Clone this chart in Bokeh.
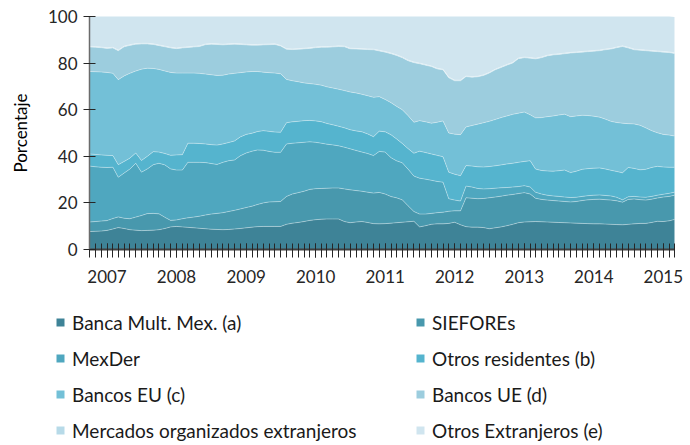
import numpy as np
import pandas as pd
from bokeh.plotting import figure
from bokeh.models import (Range1d, FixedTicker, DatetimeTickFormatter, Legend,
                          LegendItem, ColumnDataSource)
from bokeh.embed import file_html
from bokeh.resources import INLINE

# Monthly observations, Oct-2006 .. Mar-2015 (percent of total)
dates = pd.date_range("2006-10-01", periods=102, freq="MS")

banca = [7.7, 7.8, 7.9, 8.2, 8.8, 9.4, 9.0, 8.5, 8.3, 8.1,
         8.2, 8.3, 8.5, 9.0, 9.7, 9.9, 9.7, 9.5, 9.3, 9.1,
         8.9, 8.7, 8.6, 8.5, 8.6, 8.8, 9.0, 9.3, 9.6, 9.8,
         9.9, 9.9, 9.9, 9.9, 10.8, 11.3, 11.6, 12.0, 12.5, 12.8,
         13.0, 13.1, 13.1, 13.1, 12.0, 11.5, 11.8, 12.0, 11.6, 11.1,
         11.0, 11.1, 11.3, 11.5, 11.7, 11.9, 12.1, 9.7, 10.2, 10.8,
         11.0, 11.0, 11.2, 11.7, 10.6, 9.8, 9.6, 9.6, 9.4, 8.9,
         9.3, 9.7, 10.2, 10.8, 11.5, 11.8, 11.9, 12.0, 11.9, 11.8,
         11.7, 11.6, 11.5, 11.4, 11.3, 11.2, 11.1, 11.0, 11.0, 10.9,
         10.8, 10.7, 10.6, 10.8, 11.0, 11.2, 11.2, 11.6, 12.1, 12.0,
         12.3, 12.9]
siefores = [4.1, 4.2, 4.3, 4.2, 4.5, 4.6, 4.4, 4.7, 5.6, 6.5,
            7.2, 7.2, 6.8, 4.8, 2.8, 2.8, 3.5, 4.1, 4.6, 5.2,
            5.9, 6.5, 6.9, 7.3, 7.7, 8.0, 8.4, 8.7, 9.0, 9.5,
            10.1, 10.5, 10.6, 10.7, 12.0, 12.5, 12.8, 13.0, 13.3, 13.3,
            13.2, 13.2, 13.3, 13.3, 14.0, 14.1, 13.5, 13.0, 13.0, 13.1,
            13.5, 12.7, 11.4, 10.7, 9.6, 6.9, 4.2, 5.5, 5.0, 4.7,
            4.8, 5.0, 5.2, 4.9, 6.0, 12.4, 12.4, 12.2, 12.5, 13.3,
            13.2, 13.2, 13.1, 12.8, 12.5, 12.6, 11.9, 10.0, 9.6, 9.4,
            9.3, 9.2, 9.1, 9.0, 9.3, 9.8, 10.2, 10.5, 10.6, 10.5,
            10.4, 10.2, 9.7, 10.7, 10.7, 10.2, 10.0, 10.0, 10.0, 10.5,
            10.5, 10.4]
mexder = [24.0, 23.5, 23.1, 22.8, 22.0, 17.0, 19.4, 21.3, 23.1, 18.6,
          19.2, 20.9, 21.7, 22.5, 22.1, 21.4, 20.9, 23.8, 23.5, 23.1,
          22.5, 21.7, 21.0, 21.6, 21.8, 21.6, 22.8, 23.4, 23.6, 23.4,
          22.6, 21.7, 21.2, 21.1, 22.5, 21.8, 21.4, 21.0, 20.4, 19.9,
          19.4, 18.9, 18.5, 18.1, 17.9, 17.6, 17.2, 16.8, 16.6, 16.1,
          17.6, 18.0, 16.7, 15.9, 15.9, 15.7, 15.2, 15.4, 15.0, 14.2,
          13.4, 12.9, 5.4, 4.6, 4.2, 5.0, 4.8, 4.4, 4.1, 3.9,
          3.8, 3.6, 3.3, 3.2, 3.0, 3.0, 3.0, 2.6, 2.3, 2.1,
          2.0, 2.0, 1.9, 1.9, 1.8, 1.8, 1.8, 1.8, 1.8, 1.8,
          1.8, 1.5, 1.0, 1.1, 1.1, 1.1, 1.2, 1.2, 1.2, 1.2,
          1.3, 1.3]
otros_res = [5.2, 5.3, 5.3, 5.2, 5.0, 5.4, 5.0, 4.7, 4.4, 5.0,
             5.4, 5.6, 4.8, 4.9, 5.8, 6.5, 6.6, 8.2, 8.2, 8.1,
             8.0, 8.1, 8.3, 7.9, 7.8, 8.2, 8.1, 8.0, 7.7, 7.9,
             8.4, 8.6, 8.7, 8.6, 9.1, 9.2, 9.2, 9.3, 9.2, 9.2,
             9.2, 8.9, 8.6, 8.4, 8.3, 8.2, 8.4, 8.7, 8.4, 8.1,
             8.7, 8.7, 9.8, 9.4, 8.3, 8.8, 9.8, 11.6, 11.4, 11.3,
             11.2, 10.9, 11.4, 11.1, 10.9, 8.8, 9.0, 9.3, 9.4, 9.5,
             9.6, 9.8, 10.1, 10.2, 10.4, 10.4, 11.3, 9.9, 10.1, 10.4,
             10.6, 11.0, 11.6, 10.7, 11.2, 11.6, 11.6, 11.6, 11.6, 11.4,
             11.0, 11.1, 11.6, 12.6, 12.0, 11.7, 12.0, 12.4, 12.4, 11.7,
             11.2, 10.7]
bancos_eu = [35.4, 35.5, 35.6, 35.6, 35.3, 36.5, 36.7, 36.4, 35.2, 39.2,
             37.8, 35.7, 35.5, 35.4, 35.6, 35.1, 35.0, 30.1, 30.1, 30.1,
             30.0, 30.0, 29.9, 29.5, 29.4, 29.0, 27.6, 26.8, 26.5, 25.8,
             25.1, 25.2, 25.3, 25.1, 18.6, 17.6, 17.0, 16.2, 15.8, 15.7,
             15.7, 15.7, 15.8, 15.9, 16.0, 16.2, 16.3, 16.1, 16.4, 16.9,
             14.8, 13.9, 13.8, 14.0, 14.5, 14.2, 13.3, 13.1, 13.2, 13.2,
             14.2, 15.4, 16.8, 17.2, 17.6, 16.6, 17.4, 18.3, 19.0, 19.4,
             19.9, 20.3, 20.6, 21.0, 21.1, 21.2, 19.7, 22.0, 22.7, 23.3,
             23.7, 23.9, 24.0, 24.0, 23.7, 23.2, 22.8, 22.3, 21.8, 21.4,
             21.0, 21.0, 21.3, 18.8, 19.1, 19.1, 17.8, 15.8, 14.4, 14.0,
             13.8, 13.4]
bancos_ue = [10.5, 10.5, 10.4, 10.3, 10.9, 12.4, 12.5, 12.0, 11.5, 10.8,
             10.4, 10.3, 10.2, 10.4, 10.5, 10.5, 10.8, 11.0, 11.2, 11.5,
             12.6, 13.1, 13.3, 13.0, 12.7, 12.5, 12.1, 11.6, 11.3, 11.3,
             11.7, 12.0, 12.3, 11.9, 12.9, 13.4, 13.9, 14.6, 15.1, 15.7,
             16.3, 17.0, 17.6, 18.3, 18.8, 18.5, 18.8, 19.3, 19.8, 20.4,
             19.6, 20.3, 21.0, 21.8, 22.3, 23.5, 25.6, 24.4, 24.3, 24.3,
             22.9, 21.9, 23.7, 22.9, 23.1, 21.6, 20.7, 20.3, 20.3, 20.7,
             21.3, 21.5, 21.8, 22.0, 23.4, 23.3, 24.3, 25.3, 25.7, 26.1,
             26.2, 26.0, 25.9, 27.3, 27.2, 27.1, 27.4, 27.9, 28.5, 29.7,
             31.0, 32.1, 32.9, 32.5, 31.8, 32.2, 33.1, 34.1, 34.8, 35.3,
             35.4, 35.4]
mercados = [0.3, 0.3, 0.3, 0.3, 0.3, 0.3, 0.3, 0.3, 0.3, 0.3,
            0.3, 0.3, 0.3, 0.3, 0.3, 0.3, 0.3, 0.3, 0.3, 0.3,
            0.3, 0.3, 0.3, 0.3, 0.3, 0.3, 0.3, 0.3, 0.3, 0.3,
            0.3, 0.3, 0.3, 0.3, 0.3, 0.3, 0.3, 0.3, 0.3, 0.3,
            0.3, 0.3, 0.3, 0.3, 0.3, 0.3, 0.3, 0.3, 0.3, 0.3,
            0.3, 0.3, 0.3, 0.3, 0.3, 0.3, 0.3, 0.3, 0.3, 0.3,
            0.3, 0.3, 0.3, 0.3, 0.3, 0.3, 0.3, 0.3, 0.3, 0.3,
            0.3, 0.3, 0.3, 0.3, 0.3, 0.3, 0.3, 0.3, 0.3, 0.3,
            0.3, 0.3, 0.3, 0.3, 0.3, 0.3, 0.3, 0.3, 0.3, 0.3,
            0.3, 0.3, 0.3, 0.3, 0.3, 0.3, 0.3, 0.3, 0.3, 0.3,
            0.3, 0.3]
otros_ext = [12.8, 12.9, 13.1, 13.4, 13.2, 14.4, 12.7, 12.1, 11.6, 11.5,
             11.5, 11.7, 12.2, 12.7, 13.2, 13.5, 13.2, 13.0, 12.8, 12.6,
             11.8, 11.6, 11.7, 11.9, 11.7, 11.6, 11.7, 11.9, 12.0, 12.0,
             11.9, 11.8, 11.7, 12.4, 13.8, 13.9, 13.8, 13.6, 13.4, 13.1,
             12.9, 12.9, 12.8, 12.6, 12.7, 13.6, 13.7, 13.8, 13.9, 14.0,
             14.5, 15.0, 15.7, 16.4, 17.4, 18.7, 19.5, 20.0, 20.6, 21.2,
             22.2, 22.6, 26.0, 27.3, 27.3, 25.5, 25.8, 25.6, 25.0, 24.0,
             22.6, 21.6, 20.6, 19.7, 17.8, 17.4, 17.6, 17.9, 17.4, 16.6,
             16.2, 16.0, 15.7, 15.4, 15.2, 15.0, 14.8, 14.6, 14.4, 14.0,
             13.7, 13.1, 12.6, 13.2, 14.0, 14.2, 14.4, 14.6, 14.8, 15.0,
             15.2, 15.4]

names = ["banca", "siefores", "mexder", "otros_res", "bancos_eu",
         "bancos_ue", "mercados", "otros_ext"]
labels = ["Banca Mult. Mex. (a)", "SIEFOREs", "MexDer", "Otros residentes (b)",
          "Bancos EU (c)", "Bancos UE (d)", "Mercados organizados extranjeros",
          "Otros Extranjeros (e)"]
colors = ["#3E8397", "#4898AD", "#4FA7BF", "#55B4CE",
          "#73C0D7", "#9CCDDE", "#B7DAE8", "#D0E5EF"]
series = [banca, siefores, mexder, otros_res, bancos_eu, bancos_ue, mercados, otros_ext]
y_ticks = [0, 20, 40, 60, 80, 100]

x_ms = (dates.asi8 // 10**6).astype(float)
data = {"x": x_ms}
for n, s in zip(names, series):
    data[n] = s
source = ColumnDataSource(data)

FONT = "Lato"
W, H = 690, 445
# pixel box of the data area inside the canvas (layout only)
L, R, T, B = 89, 674, 16, 249

x0, x1 = x_ms[0], x_ms[-1]
sx = (x1 - x0) / (R - L)
sy = 100.0 / (B - T)
p = figure(width=W, height=H, output_backend="svg", toolbar_location=None,
           x_range=Range1d(x0 - L * sx, x1 + (W - R) * sx),
           y_range=Range1d(0 - (H - B) * sy, 100 + T * sy),
           x_axis_type="datetime", min_border=0)

rends = p.varea_stack(stackers=names, x="x", color=colors, source=source)

# thin light separators between layers
cum = np.cumsum(np.array(series, dtype=float), axis=0)
for k in range(len(series) - 1):
    p.line(x_ms, cum[k], line_color="white", line_alpha=0.35, line_width=1)

p.xgrid.visible = False
p.ygrid.visible = False
p.outline_line_color = None

# X axis (anchored at y = 0)
jan = x_ms[dates.month == 1]
xa = p.xaxis[0]
xa.fixed_location = 0
xa.bounds = (x0, x1)
xa.ticker = FixedTicker(ticks=list(jan), minor_ticks=list(x_ms))
xa.formatter = DatetimeTickFormatter(years="%Y", months="%Y", days="%Y",
                                     hours="%Y", hourmin="%Y")
xa.axis_line_color = "#404040"
xa.axis_line_width = 2
xa.major_tick_in = 6
xa.major_tick_out = 8
xa.minor_tick_in = 6
xa.minor_tick_out = 8
xa.major_tick_line_color = "#262626"
xa.minor_tick_line_color = "#262626"
xa.major_label_standoff = 12
xa.major_label_text_font = FONT
xa.major_label_text_font_size = "17px"
xa.major_label_text_color = "#262626"

# Y axis (anchored at the first month)
ya = p.yaxis[0]
ya.fixed_location = x0
ya.bounds = (0, 100)
ya.ticker = FixedTicker(ticks=y_ticks)
ya.axis_line_color = "#6b6b6b"
ya.axis_line_width = 1.5
ya.major_tick_in = 6
ya.major_tick_out = 6
ya.minor_tick_line_color = None
ya.major_tick_line_color = "#262626"
ya.major_label_standoff = 6
ya.major_label_text_font = FONT
ya.major_label_text_font_size = "17px"
ya.major_label_text_color = "#262626"
ya.axis_label = "Porcentaje"
ya.axis_label_text_font = FONT
ya.axis_label_text_font_size = "17px"
ya.axis_label_text_font_style = "normal"
ya.axis_label_text_color = "#000000"
ya.axis_label_standoff = 14

# Legend: two columns
items = [LegendItem(label=l, renderers=[r]) for l, r in zip(labels, rends)]
col1 = [items[i] for i in (0, 2, 4, 6)]
col2 = [items[i] for i in (1, 3, 5, 7)]
for its, vx in ((col1, 55), (col2, 415)):
    leg = Legend(items=its, location=(vx, 3), orientation="vertical",
                 padding=0, margin=0, spacing=12,
                 glyph_width=10, glyph_height=10, label_height=24,
                 label_standoff=7, border_line_color=None,
                 background_fill_alpha=0,
                 label_text_font=FONT, label_text_font_size="19px",
                 label_text_color="#1a1a1a")
    p.add_layout(leg)

open("out.html", "w").write(file_html(p, INLINE))
